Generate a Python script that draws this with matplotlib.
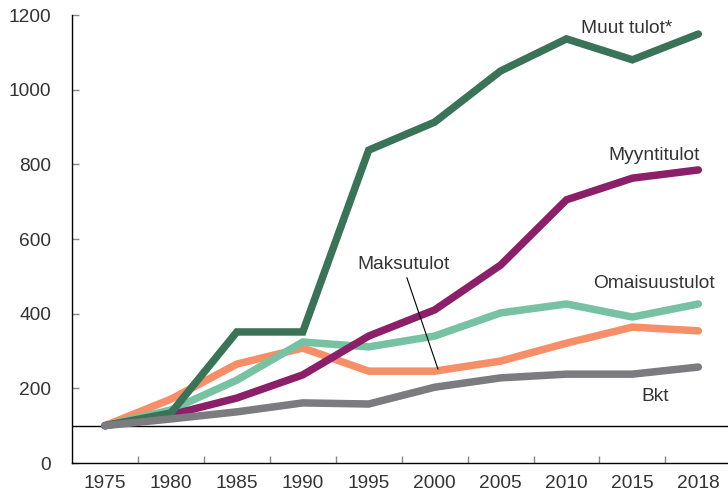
import matplotlib
matplotlib.use("Agg")
import matplotlib.pyplot as plt

plt.rcParams['font.family'] = ['Liberation Sans', 'DejaVu Sans']

years = ["1975", "1980", "1985", "1990", "1995", "2000", "2005", "2010", "2015", "2018"]
muut_tulot = [100, 134, 351, 351, 838, 913, 1050, 1136, 1080, 1149]
myyntitulot = [100, 129, 174, 236, 340, 410, 530, 705, 763, 785]
omaisuustulot = [100, 142, 222, 324, 311, 340, 402, 426, 391, 426]
maksutulot = [100, 171, 265, 308, 246, 246, 273, 321, 364, 354]
bkt = [100, 118, 137, 161, 158, 203, 228, 238, 238, 257]

fig = plt.figure(figsize=(7.28, 4.95), dpi=100)
ax = fig.add_axes([72/728, 32/495, 1 - 72/728, 448/495])

x = list(range(len(years)))
kw = dict(lw=5.4, solid_capstyle='round', solid_joinstyle='miter')
ax.axhline(100, color='black', lw=1.0, zorder=1)
ax.plot(x, maksutulot, color='#f68e68', zorder=2, **kw)
ax.plot(x, omaisuustulot, color='#77c2a2', zorder=3, **kw)
ax.plot(x, myyntitulot, color='#8b1f68', zorder=4, **kw)
ax.plot(x, muut_tulot, color='#3b7359', zorder=5, **kw)
ax.plot(x, bkt, color='#7b7b80', zorder=6, **kw)

ax.set_xlim(-0.5, 9.45)
ax.set_ylim(0, 1200)
ax.set_yticks(range(0, 1201, 200))
ax.set_xticks(x)
ax.set_xticklabels(years)
ax.set_xticks([i + 0.5 for i in range(9)], minor=True)
fs = 13.8
ax.tick_params(axis='x', which='major', length=0, pad=9, labelsize=fs, labelcolor='#333333')
ax.tick_params(axis='x', which='minor', direction='in', length=5, color='#888888', width=1)
ax.tick_params(axis='y', direction='in', length=5, color='#888888', width=1, pad=15,
               labelsize=fs, labelcolor='#333333')
for s in ['top', 'right']:
    ax.spines[s].set_visible(False)
for s in ['left', 'bottom']:
    ax.spines[s].set_color('black')
    ax.spines[s].set_linewidth(1.0)

tc = '#333333'
ax.text(7.91, 1165, "Muut tulot*", ha='center', va='center', fontsize=fs, color=tc)
ax.text(8.33, 825, "Myyntitulot", ha='center', va='center', fontsize=fs, color=tc)
ax.text(8.33, 482, "Omaisuustulot", ha='center', va='center', fontsize=fs, color=tc)
ax.text(4.53, 533, "Maksutulot", ha='center', va='center', fontsize=fs, color=tc)
ax.text(8.35, 179, "Bkt", ha='center', va='center', fontsize=fs, color=tc)
ax.plot([4.58, 5.05], [496, 252], color='black', lw=0.8, zorder=7)

fig.savefig("out.png", dpi=100)
